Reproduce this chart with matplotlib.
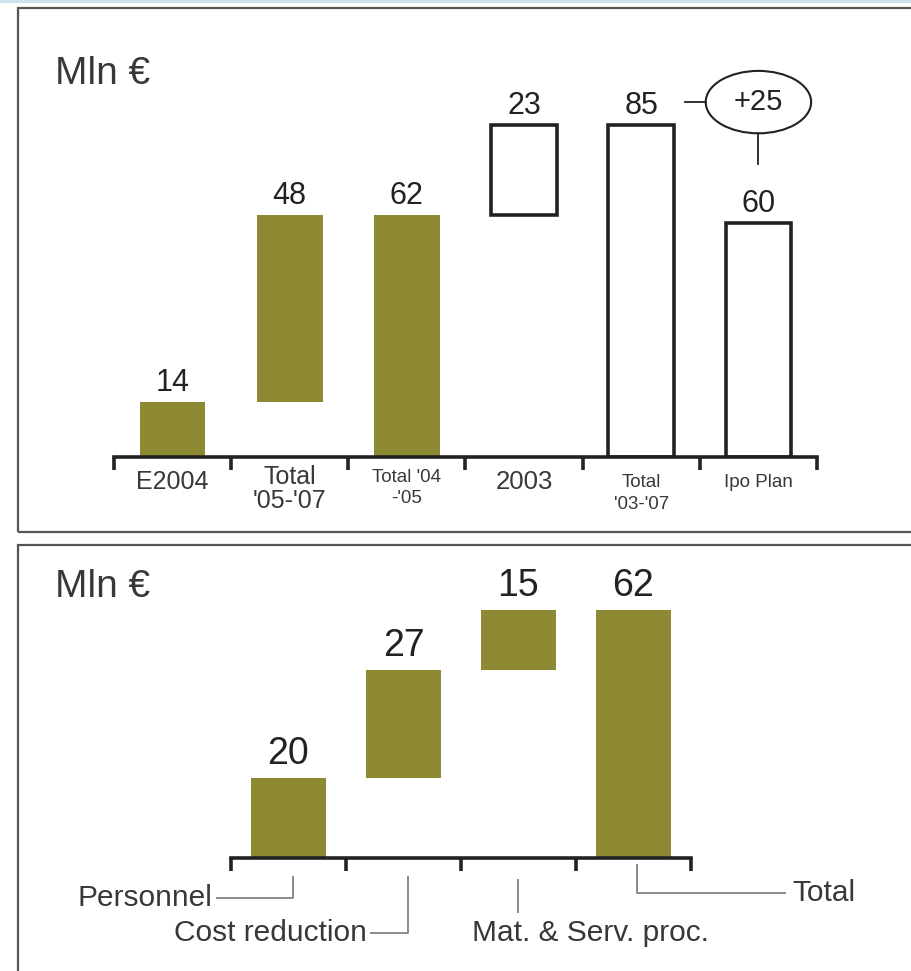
import matplotlib
matplotlib.use("Agg")
import matplotlib.pyplot as plt
import numpy as np
from matplotlib.patches import Ellipse, Rectangle
from matplotlib.lines import Line2D

plt.rcParams['font.family'] = ['Liberation Sans', 'DejaVu Sans']

# ---------------- data ----------------
unit_label = "Mln €"

top_categories = ["E2004", "Total\n'05-'07", "Total '04\n-'05", "2003", "Total\n'03-'07", "Ipo Plan"]
top_values = [14, 48, 62, 23, 85, 60]
top_kind = ["total", "delta", "total", "delta", "total", "total"]
top_filled = [True, True, True, False, False, False]
gap_label = "+25"

bottom_categories = ["Personnel", "Cost reduction", "Mat. & Serv. proc.", "Total"]
bottom_values = [20, 27, 15, 62]
bottom_kind = ["delta", "delta", "delta", "total"]

# label styling (size pt, offset below axis in points, line spacing)
top_label_sizes = [18, 18, 13.5, 18.5, 13.5, 13.5]
top_label_offsets = [9, 6, 8.5, 9, 12.5, 12.5]
top_label_spacing = [1.0, 1.0, 1.3, 1.0, 1.35, 1.0]

OLIVE = "#8d8a33"
DARK = "#222222"
GREY = "#8a8a8a"
TXT = "#383838"

W, H = 912, 971
fig = plt.figure(figsize=(W / 100, H / 100), dpi=100)
fig.patch.set_facecolor("white")


def fx(px):
    return px / W


def fy(py):
    return 1 - py / H


def bases(values, kinds):
    out, run = [], 0
    for v, k in zip(values, kinds):
        if k == "delta":
            out.append(run)
            run += v
        else:
            out.append(0)
            run = v
    return out


# panel frames
fig.add_artist(Rectangle((fx(18), fy(532)), 1.0, (532 - 8) / H, transform=fig.transFigure,
                         fill=False, ec="#555555", lw=1.6))
fig.add_artist(Rectangle((fx(18), -0.01), 1.0, fy(545) + 0.01, transform=fig.transFigure,
                         fill=False, ec="#555555", lw=1.6))
fig.add_artist(Line2D([0, 1], [fy(1.5), fy(1.5)], transform=fig.transFigure, color="#cfe2ee", lw=3))

# ---------------- top panel ----------------
px_per_unit_top = 3.9
base_top_px = 457
ax1 = fig.add_axes([fx(114), fy(base_top_px), fx(817) - fx(114), 100 * px_per_unit_top / H])
ax1.set_xlim(-0.5, len(top_values) - 0.5)
ax1.set_ylim(0, 100)

tb = bases(top_values, top_kind)
x1 = np.arange(len(top_values))
for xi, v, b, filled in zip(x1, top_values, tb, top_filled):
    if filled:
        ax1.bar(xi, v, bottom=b, width=0.56, color=OLIVE, edgecolor="none")
    else:
        ax1.bar(xi, v, bottom=b, width=0.56, facecolor="white", edgecolor=DARK, linewidth=2.6)
    ax1.annotate(str(v), (xi, b + v), xytext=(0, 8), textcoords="offset points",
                 ha="center", va="baseline", fontsize=22, color=DARK)

# gap annotation (+25) between total '03-'07 and Ipo Plan
i_tot = 4
i_ipo = 5
yc = top_values[i_tot] + 6
ax1.add_patch(Ellipse((i_ipo, yc), 0.9, 16, fill=False, ec=DARK, lw=1.5, clip_on=False))
ax1.text(i_ipo, yc, gap_label, ha="center", va="center", fontsize=21, color=DARK)
ax1.plot([i_tot + 0.37, i_ipo - 0.45], [yc, yc], color=DARK, lw=1.3, clip_on=False)
ax1.plot([i_ipo, i_ipo], [yc - 8, yc - 16], color=DARK, lw=1.3, clip_on=False)

fig.text(fx(55), fy(84), unit_label, fontsize=28, color=TXT, ha="left", va="baseline")

for s in ["top", "left", "right"]:
    ax1.spines[s].set_visible(False)
ax1.spines["bottom"].set_linewidth(2.6)
ax1.spines["bottom"].set_color(DARK)
ax1.set_yticks([])
ax1.patch.set_alpha(0)
ax1.set_xticks(np.arange(-0.5, len(top_values), 1))
ax1.tick_params(axis="x", which="major", direction="out", length=9, width=2.6, color=DARK,
                labelbottom=False)

for xi, lab, fs, off, ls in zip(x1, top_categories, top_label_sizes, top_label_offsets, top_label_spacing):
    ax1.annotate(lab, (xi, 0), xytext=(0, -off), textcoords="offset points",
                 ha="center", va="top", fontsize=fs, color=TXT, linespacing=ls,
                 multialignment="center", annotation_clip=False)

# ---------------- bottom panel ----------------
px_per_unit_bot = 4.0
base_bot_px = 858
ax2 = fig.add_axes([fx(231), fy(base_bot_px), fx(691) - fx(231), 74 * px_per_unit_bot / H])
ax2.set_xlim(-0.5, len(bottom_values) - 0.5)
ax2.set_ylim(0, 74)
bb = bases(bottom_values, bottom_kind)
x2 = np.arange(len(bottom_values))
ax2.bar(x2, bottom_values, bottom=bb, width=0.65, color=OLIVE, edgecolor="none")
for xi, v, b in zip(x2, bottom_values, bb):
    ax2.annotate(str(v), (xi, b + v), xytext=(0, 10), textcoords="offset points",
                 ha="center", va="baseline", fontsize=27, color=DARK)

for s in ["top", "left", "right"]:
    ax2.spines[s].set_visible(False)
ax2.spines["bottom"].set_linewidth(2.6)
ax2.spines["bottom"].set_color(DARK)
ax2.set_yticks([])
ax2.patch.set_alpha(0)
ax2.set_xticks(np.arange(-0.5, len(bottom_values), 1))
ax2.tick_params(axis="x", which="major", direction="out", length=9, width=2.6, color=DARK,
                labelbottom=False)

fig.text(fx(55), fy(597), unit_label, fontsize=28, color=TXT, ha="left", va="baseline")

# leader-line labels under the bottom axis
u = px_per_unit_bot


def yd(py):
    return (base_bot_px - py) / u


lk = dict(color=GREY, lw=1.4, clip_on=False)
bfs = 21.5
# Personnel
ax2.plot([-0.62, 0.04, 0.04], [yd(898), yd(898), yd(877)], **lk)
ax2.text(-0.66, yd(898), bottom_categories[0], ha="right", va="center", fontsize=bfs, color=TXT)
# Cost reduction
ax2.plot([0.72, 1.04, 1.04], [yd(933), yd(933), yd(877)], **lk)
ax2.text(0.68, yd(933), bottom_categories[1], ha="right", va="center", fontsize=bfs, color=TXT)
# Mat. & Serv. proc.
ax2.plot([2.0, 2.0], [yd(880), yd(912)], **lk)
ax2.text(1.6, yd(933), bottom_categories[2], ha="left", va="center", fontsize=bfs, color=TXT)
# Total
ax2.plot([3.03, 3.03, 4.32], [yd(865), yd(893), yd(893)], **lk)
ax2.text(4.38, yd(893), bottom_categories[3], ha="left", va="center", fontsize=bfs, color=TXT)

fig.savefig("out.png", dpi=100)
